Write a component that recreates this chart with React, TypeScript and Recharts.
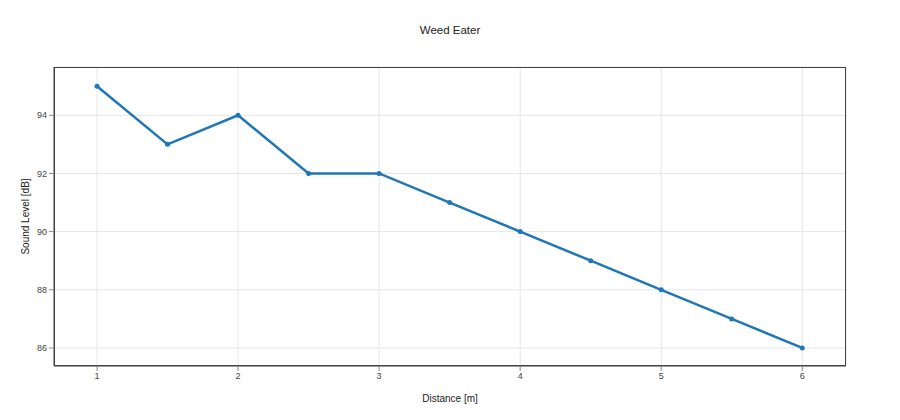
import {
  LineChart,
  Line,
  XAxis,
  YAxis,
  CartesianGrid,
} from "recharts"

const distances = [1, 1.5, 2, 2.5, 3, 3.5, 4, 4.5, 5, 5.5, 6]
const soundLevels = [95, 93, 94, 92, 92, 91, 90, 89, 88, 87, 86]
const xTicks = [1, 2, 3, 4, 5, 6]
const yTicks = [86, 88, 90, 92, 94]

const chartData = distances.map((d, i) => ({ distance: d, level: soundLevels[i] }))

const font = "'Liberation Sans', Arial, sans-serif"
const axisColor = "#444"

export default function App() {
  return (
    <div style={{ position: "absolute", left: 0, top: 0, width: 900, height: 420, background: "#fff", fontFamily: font }}>
      <div
        style={{
          position: "absolute",
          top: 24,
          width: 900,
          textAlign: "center",
          fontSize: 11.5,
          color: "#222",
        }}
      >
        Weed Eater
      </div>
      <LineChart
        width={900}
        height={420}
        data={chartData}
        margin={{ top: 67, right: 54, left: 0, bottom: 0 }}
      >
        <CartesianGrid stroke="#e6e6e6" strokeWidth={1} />
        <XAxis
          dataKey="distance"
          type="number"
          domain={[0.695, 6.31]}
          ticks={xTicks}
          allowDataOverflow
          height={54}
          stroke={axisColor}
          tickSize={5}
          tick={{ fontSize: 9, fill: axisColor, fontFamily: font }}
          tickLine={{ stroke: "#888" }}
          label={{
            value: "Distance [m]",
            position: "insideBottom",
            offset: 18,
            fontSize: 10,
            fill: "#222",
            fontFamily: font,
          }}
        />
        <YAxis
          type="number"
          domain={[85.38, 95.66]}
          ticks={yTicks}
          allowDataOverflow
          width={54}
          stroke={axisColor}
          tickSize={5}
          tick={{ fontSize: 9, fill: axisColor, fontFamily: font }}
          tickLine={{ stroke: "#888" }}
          label={{
            value: "Sound Level [dB]",
            angle: -90,
            position: "insideLeft",
            offset: 25,
            fontSize: 10,
            fill: "#222",
            fontFamily: font,
            style: { textAnchor: "middle" },
          }}
        />
        <Line
          type="linear"
          dataKey="level"
          stroke="#1f77b4"
          strokeWidth={2.5}
          dot={{ r: 2.5, fill: "#1f77b4", stroke: "#1f77b4", strokeWidth: 0 }}
          isAnimationActive={false}
        />
      </LineChart>
      {/* plot frame, like a mirrored axis box */}
      <div
        style={{
          position: "absolute",
          left: 54,
          top: 67,
          width: 792,
          height: 299,
          boxSizing: "border-box",
          border: `1px solid ${axisColor}`,
          pointerEvents: "none",
        }}
      />
    </div>
  )
}
